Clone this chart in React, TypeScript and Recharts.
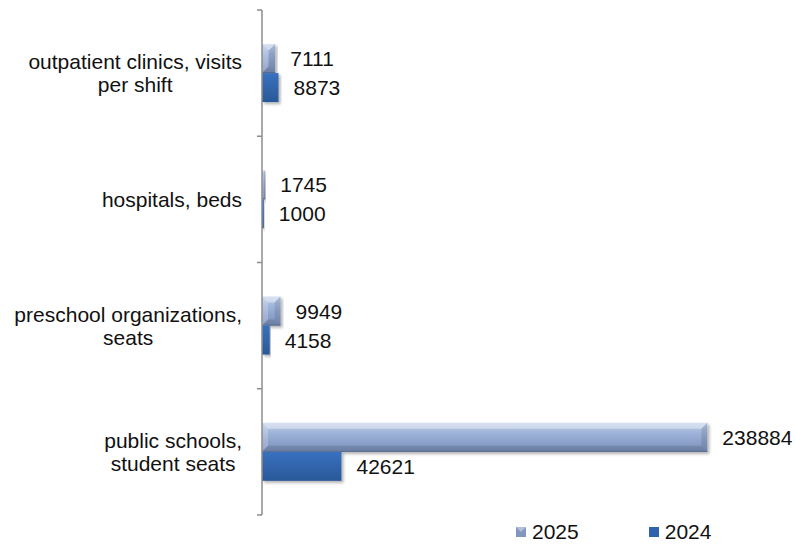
import React from "react";
import { Bar, BarChart, LabelList, Legend, XAxis, YAxis } from "recharts";

const categories = [
  "outpatient clinics, visits\nper shift",
  "hospitals, beds",
  "preschool organizations,\nseats",
  "public schools,\nstudent seats",
];
const values2025 = [7111, 1745, 9949, 238884];
const values2024 = [8873, 1000, 4158, 42621];
const xDomain = [0, 280000];

const W = 795;
const H = 544;
const MARGIN = { top: 10, right: 11, bottom: 0, left: 0 };
const LEGEND_H = 29;
const FONT = '"Liberation Sans", Arial, sans-serif';
const FONT_SIZE = 21;

const data = categories.map((category, i) => ({
  category,
  y2025: values2025[i],
  y2024: values2024[i],
}));

let measureCtx: CanvasRenderingContext2D | null = null;
function textWidth(s: string) {
  if (!measureCtx) measureCtx = document.createElement("canvas").getContext("2d");
  if (!measureCtx) return s.length * 10;
  measureCtx.font = `${FONT_SIZE}px "Liberation Sans"`;
  return measureCtx.measureText(s).width;
}

const bandSize = (H - MARGIN.top - MARGIN.bottom - LEGEND_H) / categories.length;

function CategoryTick(props: any) {
  const { x, y, payload, index } = props;
  const lines = String(payload.value).split("\n");
  const maxW = Math.max(...lines.map(textWidth));
  const cx = x - maxW / 2;
  const lineH = 23;
  const startY = y - ((lines.length - 1) * lineH) / 2;
  const axisX = x + 20;
  return (
    <g>
      <line x1={axisX - 5} x2={axisX} y1={y - bandSize / 2} y2={y - bandSize / 2} stroke="#8c8c8c" strokeWidth={1.5} />
      {index === categories.length - 1 && (
        <line x1={axisX - 5} x2={axisX} y1={y + bandSize / 2} y2={y + bandSize / 2} stroke="#8c8c8c" strokeWidth={1.5} />
      )}
      <text textAnchor="middle" fontFamily={FONT} fontSize={FONT_SIZE} fill="#111">
        {lines.map((l, i) => (
          <tspan key={i} x={cx} y={startY + i * lineH} dy="0.355em">
            {l}
          </tspan>
        ))}
      </text>
    </g>
  );
}

function BevelBar(props: any) {
  const { x, y, width, height } = props;
  if (!width || width <= 0) return null;
  const b = Math.min(6, width / 2, height / 2);
  const r = x + width;
  const btm = y + height;
  return (
    <g filter="url(#barShadow)">
      <rect x={x} y={y} width={width} height={height} fill="url(#g2025)" />
      <polygon points={`${x},${y} ${r},${y} ${r - b},${y + b} ${x + b},${y + b}`} fill="#fff" fillOpacity={0.4} />
      <polygon points={`${x},${y} ${x + b},${y + b} ${x + b},${btm - b} ${x},${btm}`} fill="#fff" fillOpacity={0.2} />
      <polygon points={`${r},${y} ${r},${btm} ${r - b},${btm - b} ${r - b},${y + b}`} fill="#000" fillOpacity={0.1} />
      <polygon points={`${x},${btm} ${x + b},${btm - b} ${r - b},${btm - b} ${r},${btm}`} fill="#000" fillOpacity={0.12} />
      <line x1={x} x2={r} y1={btm - 0.5} y2={btm - 0.5} stroke="#4e5f82" strokeOpacity={0.7} />
    </g>
  );
}

function FlatBar(props: any) {
  const { x, y, width, height } = props;
  if (!width || width <= 0) return null;
  return <rect x={x} y={y} width={width} height={height} fill="url(#g2024)" filter="url(#barShadow)" />;
}

function LegendContent() {
  const item = (label: string, fill: string, bevel: boolean) => (
    <div style={{ display: "flex", alignItems: "center", marginRight: 70 }}>
      <svg width={10} height={10} style={{ marginRight: 6 }}>
        <rect width={10} height={10} fill={fill} />
        {bevel && <polygon points="0,0 10,0 5,5" fill="#fff" fillOpacity={0.4} />}
      </svg>
      <span>{label}</span>
    </div>
  );
  return (
    <div
      style={{
        height: LEGEND_H,
        display: "flex",
        alignItems: "flex-end",
        paddingLeft: 516,
        fontFamily: FONT,
        fontSize: FONT_SIZE,
        lineHeight: "24px",
        color: "#111",
      }}
    >
      {item("2025", "#8297bf", true)}
      {item("2024", "#2f63ad", false)}
    </div>
  );
}

export default function App() {
  return (
    <div style={{ position: "absolute", left: 0, top: 0, width: W, height: H, background: "#fff" }}>
      <BarChart
        width={W}
        height={H}
        data={data}
        layout="vertical"
        margin={MARGIN}
        barCategoryGap="27%"
        barGap={0}
      >
        <defs>
          <linearGradient id="g2025" x1="0" y1="0" x2="0" y2="1">
            <stop offset="0%" stopColor="#bccdea" />
            <stop offset="40%" stopColor="#9bb0d6" />
            <stop offset="100%" stopColor="#7a90bb" />
          </linearGradient>
          <linearGradient id="g2024" x1="0" y1="0" x2="0" y2="1">
            <stop offset="0%" stopColor="#3871bf" />
            <stop offset="100%" stopColor="#2a5897" />
          </linearGradient>
          <filter id="barShadow" x="-5%" y="-20%" width="120%" height="160%">
            <feDropShadow dx={2} dy={2} stdDeviation={1.5} floodColor="#000" floodOpacity={0.3} />
          </filter>
        </defs>
        <XAxis type="number" domain={xDomain} hide />
        <YAxis
          type="category"
          dataKey="category"
          width={262}
          tickSize={0}
          tickMargin={20}
          axisLine={{ stroke: "#8c8c8c", strokeWidth: 1.5 }}
          tick={<CategoryTick />}
          interval={0}
        />
        <Legend verticalAlign="bottom" height={LEGEND_H} content={<LegendContent />} />
        <Bar dataKey="y2025" name="2025" shape={<BevelBar />} isAnimationActive={false}>
          <LabelList dataKey="y2025" position="right" offset={15} fill="#111" fontSize={FONT_SIZE} fontFamily={FONT} />
        </Bar>
        <Bar dataKey="y2024" name="2024" shape={<FlatBar />} isAnimationActive={false}>
          <LabelList dataKey="y2024" position="right" offset={15} fill="#111" fontSize={FONT_SIZE} fontFamily={FONT} />
        </Bar>
      </BarChart>
    </div>
  );
}
